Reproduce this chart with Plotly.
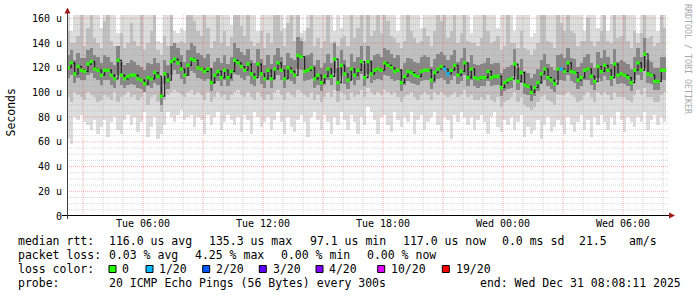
import numpy as np
import pandas as pd
import plotly.graph_objects as go

# ---------------- data ----------------
times = pd.date_range("2025-12-30 02:10", periods=180, freq="10min")

median = [
    120, 124, 115, 121, 118, 117, 123, 125, 119, 118,
    114, 118, 118, 114, 111, 126, 114, 111, 113, 114,
    114, 111, 110, 107, 112, 111, 116, 113, 97, 115,
    110, 125, 127, 124, 119, 114, 122, 127, 126, 120,
    119, 117, 119, 108, 114, 117, 112, 118, 112, 117,
    126, 124, 121, 118, 123, 115, 112, 123, 115, 111,
    118, 111, 119, 124, 118, 111, 120, 117, 114, 130,
    129, 117, 118, 120, 111, 114, 108, 113, 119, 113,
    127, 108, 122, 115, 110, 119, 114, 118, 125, 112,
    125, 115, 118, 119, 118, 124, 122, 120, 117, 118,
    108, 113, 117, 116, 114, 113, 117, 118, 118, 110,
    116, 119, 121, 119, 115, 118, 122, 114, 117, 124,
    112, 119, 112, 111, 112, 112, 117, 112, 113, 113,
    104, 108, 110, 111, 123, 109, 116, 106, 105, 100,
    104, 108, 115, 119, 112, 110, 107, 119, 119, 117,
    124, 117, 116, 110, 112, 118, 119, 113, 109, 121,
    117, 122, 118, 112, 123, 114, 115, 114, 112, 108,
    118, 124, 118, 131, 115, 114, 109, 109, 118, 118,
]

loss = [0] * 180
loss[113] = 1
loss[114] = 1
loss[148] = 1

ping_min = [
    62, 58, 80, 78, 82, 76, 74, 70, 78, 66,
    72, 78, 64, 76, 80, 70, 66, 78, 82, 74,
    80, 68, 76, 84, 64, 72, 80, 62, 66, 74,
    84, 80, 76, 82, 86, 78, 80, 82, 72, 80,
    78, 66, 82, 74, 80, 84, 70, 76, 82, 78,
    74, 80, 68, 82, 78, 66, 84, 80, 72, 76,
    80, 70, 78, 84, 76, 66, 80, 72, 68, 78,
    82, 76, 64, 80, 84, 78, 70, 82, 76, 66,
    80, 74, 84, 78, 70, 82, 76, 66, 80, 74,
    88, 84, 78, 66, 80, 82, 74, 68, 84, 78,
    72, 80, 76, 84, 66, 78, 82, 70, 76, 80,
    84, 74, 68, 80, 78, 62, 82, 76, 84, 80,
    74, 80, 70, 78, 82, 76, 66, 80, 84, 72,
    68, 78, 74, 80, 70, 76, 82, 64, 72, 66,
    70, 78, 62, 74, 80, 68, 72, 78, 74, 66,
    80, 74, 68, 76, 82, 70, 78, 64, 80, 74,
    82, 76, 70, 80, 74, 84, 78, 68, 80, 76,
    72, 80, 76, 84, 70, 78, 82, 74, 80, 76,
]

ping_lo = [
    96, 92, 100, 98, 96, 94, 100, 98, 96, 92,
    94, 98, 96, 94, 100, 92, 96, 98, 100, 96,
    98, 94, 96, 100, 90, 96, 98, 92, 84, 94,
    98, 100, 102, 100, 98, 96, 100, 102, 98, 100,
    98, 94, 100, 92, 96, 100, 96, 98, 94, 98,
    100, 102, 98, 96, 100, 96, 94, 100, 96, 94,
    98, 94, 100, 102, 98, 94, 100, 98, 96, 102,
    100, 98, 96, 100, 94, 98, 92, 96, 100, 96,
    102, 92, 100, 98, 94, 100, 96, 98, 102, 96,
    104, 100, 98, 100, 98, 102, 100, 98, 100, 96,
    92, 96, 98, 100, 96, 94, 98, 100, 98, 94,
    100, 98, 100, 98, 96, 98, 100, 96, 98, 102,
    96, 98, 94, 94, 96, 94, 98, 94, 92, 96,
    88, 92, 94, 96, 100, 92, 96, 90, 88, 86,
    88, 92, 96, 98, 94, 92, 90, 98, 98, 98,
    100, 98, 96, 92, 94, 98, 100, 96, 92, 100,
    98, 100, 98, 94, 100, 96, 96, 96, 94, 92,
    98, 102, 98, 104, 96, 96, 92, 92, 98, 100,
]

ping_lo_core = [
    112, 114, 108, 112, 110, 110, 114, 116, 112, 110,
    106, 110, 110, 106, 104, 114, 106, 104, 106, 107,
    106, 104, 103, 100, 105, 104, 108, 106, 90, 107,
    103, 114, 118, 115, 111, 107, 113, 117, 116, 112,
    111, 109, 111, 101, 107, 109, 105, 110, 105, 109,
    115, 114, 112, 110, 113, 107, 105, 113, 107, 104,
    110, 104, 111, 114, 110, 104, 111, 109, 107, 119,
    118, 109, 110, 111, 104, 106, 101, 106, 110, 106,
    116, 101, 113, 107, 103, 110, 106, 110, 115, 105,
    115, 108, 110, 111, 110, 114, 113, 111, 109, 110,
    101, 106, 109, 108, 107, 106, 109, 110, 110, 103,
    108, 111, 112, 110, 107, 110, 113, 107, 109, 114,
    105, 110, 105, 104, 105, 105, 109, 105, 106, 106,
    97, 101, 103, 104, 113, 102, 108, 99, 98, 93,
    97, 101, 107, 110, 105, 103, 100, 110, 110, 109,
    114, 109, 108, 103, 105, 110, 110, 106, 102, 112,
    109, 113, 110, 105, 113, 107, 108, 107, 105, 101,
    110, 114, 110, 120, 108, 107, 102, 102, 110, 110,
]

ping_hi_core = [
    130, 134, 126, 132, 128, 128, 134, 136, 130, 129,
    124, 130, 129, 125, 122, 138, 125, 122, 124, 126,
    125, 122, 121, 118, 124, 123, 128, 124, 112, 126,
    122, 138, 140, 136, 130, 125, 134, 140, 138, 132,
    130, 128, 131, 120, 125, 128, 124, 130, 123, 129,
    140, 136, 133, 130, 135, 126, 124, 135, 127, 122,
    130, 123, 130, 136, 129, 122, 132, 128, 126, 145,
    142, 128, 130, 132, 122, 126, 120, 124, 131, 124,
    140, 120, 134, 126, 121, 131, 125, 129, 138, 123,
    138, 126, 130, 131, 129, 136, 134, 131, 128, 130,
    119, 124, 128, 127, 125, 124, 129, 130, 129, 121,
    127, 131, 133, 130, 126, 130, 134, 125, 128, 136,
    124, 130, 123, 122, 123, 124, 128, 123, 124, 124,
    116, 119, 121, 122, 135, 120, 127, 117, 116, 112,
    115, 119, 126, 131, 123, 121, 118, 130, 131, 128,
    136, 128, 127, 121, 124, 129, 131, 124, 120, 133,
    128, 134, 129, 123, 135, 125, 126, 125, 123, 119,
    129, 136, 129, 144, 126, 125, 120, 120, 129, 129,
]

ping_hi = [
    150, 140, 140, 146, 170, 138, 152, 170, 144, 140,
    136, 158, 170, 142, 138, 138, 148, 136, 140, 156,
    142, 138, 170, 134, 140, 150, 170, 134, 130, 146,
    138, 170, 140, 140, 142, 140, 170, 170, 158, 150,
    146, 170, 152, 136, 142, 170, 140, 150, 138, 145,
    170, 170, 154, 146, 170, 142, 138, 140, 150, 136,
    148, 140, 170, 170, 150, 138, 156, 170, 142, 170,
    144, 142, 152, 170, 138, 144, 136, 142, 170, 140,
    142, 138, 144, 146, 138, 170, 144, 152, 170, 140,
    170, 146, 150, 170, 148, 170, 158, 146, 144, 140,
    136, 142, 170, 150, 144, 140, 142, 152, 146, 138,
    150, 170, 158, 170, 144, 150, 170, 140, 148, 170,
    142, 140, 140, 138, 144, 170, 150, 140, 142, 146,
    134, 138, 170, 140, 140, 136, 150, 136, 134, 130,
    134, 140, 170, 170, 142, 140, 136, 170, 156, 150,
    170, 150, 148, 138, 142, 142, 160, 142, 138, 142,
    150, 170, 142, 140, 170, 144, 146, 170, 142, 136,
    150, 140, 148, 170, 144, 146, 138, 140, 170, 152,
]

ping_max = [
    170, 150, 170, 170, 170, 170, 170, 170, 170, 170,
    152, 170, 170, 170, 170, 148, 170, 170, 170, 170,
    170, 170, 170, 170, 170, 170, 170, 142, 140, 170,
    170, 170, 150, 148, 152, 150, 170, 170, 170, 170,
    170, 170, 170, 170, 170, 170, 170, 170, 170, 155,
    170, 170, 170, 170, 170, 170, 170, 150, 170, 170,
    170, 170, 170, 170, 170, 152, 170, 170, 170, 170,
    148, 150, 170, 170, 170, 170, 170, 170, 170, 170,
    150, 170, 152, 170, 170, 170, 170, 170, 170, 170,
    170, 170, 170, 170, 170, 170, 170, 170, 170, 150,
    170, 170, 170, 170, 170, 170, 152, 170, 170, 170,
    170, 170, 170, 170, 170, 170, 170, 170, 170, 170,
    170, 148, 170, 170, 170, 170, 170, 170, 170, 152,
    170, 170, 170, 170, 150, 170, 170, 170, 170, 145,
    148, 170, 170, 170, 170, 170, 170, 170, 170, 170,
    170, 170, 170, 170, 170, 150, 170, 170, 170, 152,
    170, 170, 150, 170, 170, 170, 170, 170, 170, 170,
    170, 148, 170, 170, 170, 170, 170, 150, 170, 170,
]

loss_levels = ["0", "1/20", "2/20", "3/20", "4/20", "10/20", "19/20"]
loss_colors = ["#26ff00", "#00b8ff", "#0059ff", "#5e00ff", "#7e00ff", "#dd00ff", "#ff0000"]

y_ticks = [0, 20, 40, 60, 80, 100, 120, 140, 160]
y_ticktext = ["0", "20 u", "40 u", "60 u", "80 u", "100 u", "120 u", "140 u", "160 u"]
x_ticks = ["2025-12-30 06:00", "2025-12-30 12:00", "2025-12-30 18:00",
           "2025-12-31 00:00", "2025-12-31 06:00"]
x_ticktext = ["Tue 06:00", "Tue 12:00", "Tue 18:00", "Wed 00:00", "Wed 06:00"]

# ---------------- figure ----------------
W, H = 697, 297
L, R, T, B = 67, 28, 15, 81
PW, PH = W - L - R, H - T - B


def px(x):
    return (x - L) / PW


def py(y):
    return (H - B - y) / PH


mono = "DejaVu Sans Mono"
fig = go.Figure()

a_min = np.array(ping_min, float)
a_lo = np.array(ping_lo, float)
a_lc = np.array(ping_lo_core, float)
a_hc = np.array(ping_hi_core, float)
a_hi = np.array(ping_hi, float)
a_max = np.array(ping_max, float)

bands = [
    (a_min, a_max, "#dddddd"),
    (a_lo, a_hi, "#c0c0c0"),
    (a_lc, a_hc, "#878787"),
]
for lo, hi, col in bands:
    fig.add_trace(go.Bar(
        x=times, y=hi - lo, base=lo, width=600000, offset=0,
        marker=dict(color=col, line=dict(width=0)),
        hoverinfo="skip", showlegend=False))

mid_times = times + pd.Timedelta(minutes=5)
fig.add_trace(go.Scatter(
    x=mid_times, y=median, mode="lines", line=dict(color="#1e1e1e", width=1.2, shape="hv"),
    hoverinfo="skip", showlegend=False))
fig.add_trace(go.Scatter(
    x=mid_times, y=median, mode="markers",
    marker=dict(symbol="square", size=3.4, color=[loss_colors[v] for v in loss],
                line=dict(width=0)),
    showlegend=False))

MAJ = "rgba(235,70,70,0.42)"
MIN = "rgba(150,150,150,0.38)"
shapes = []
# grid above the smoke
for v in range(5, 161, 5):
    major = v % 20 == 0
    shapes.append(dict(type="line", xref="paper", yref="y", x0=0, x1=1, y0=v, y1=v,
                       line=dict(color=MAJ if major else MIN, width=1, dash="1px,1px"),
                       layer="above"))
for h in pd.date_range("2025-12-30 03:00", "2025-12-31 08:00", freq="1h"):
    major = h.hour % 3 == 0
    shapes.append(dict(type="line", xref="x", yref="paper", x0=h, x1=h, y0=0, y1=1,
                       line=dict(color=MAJ if major else MIN, width=1, dash="1px,1px"),
                       layer="above"))
# axes and arrows
shapes.append(dict(type="line", xref="paper", yref="paper", x0=px(62), x1=px(670),
                   y0=py(215.5), y1=py(215.5), line=dict(color="#000000", width=1)))
shapes.append(dict(type="line", xref="paper", yref="paper", x0=px(67.5), x1=px(67.5),
                   y0=py(12), y1=py(219), line=dict(color="#404040", width=1)))
shapes.append(dict(type="path", xref="paper", yref="paper",
                   path=f"M {px(64.5)},{py(13.5)} L {px(70.5)},{py(13.5)} L {px(67.5)},{py(7.5)} Z",
                   fillcolor="#a01818", line=dict(width=0)))
shapes.append(dict(type="path", xref="paper", yref="paper",
                   path=f"M {px(669)},{py(212.5)} L {px(669)},{py(218.5)} L {px(675)},{py(215.5)} Z",
                   fillcolor="#a01818", line=dict(width=0)))
# loss colour swatches
sw_x = [109, 146, 202.7, 259.3, 316, 377.7, 442.3]
for xx, col in zip(sw_x, loss_colors):
    shapes.append(dict(type="rect", xref="paper", yref="paper", x0=px(xx), x1=px(xx + 7),
                       y0=py(272.5), y1=py(265.5), fillcolor=col,
                       line=dict(color="#000000", width=1)))

ann = []


def text(x, y, s, size=11.5, color="#000000", anchor="left", angle=0, yanchor="middle"):
    ann.append(dict(xref="paper", yref="paper", x=px(x), y=py(y), text=s, showarrow=False,
                    xanchor=anchor, yanchor=yanchor, textangle=angle,
                    font=dict(family=mono, size=size, color=color)))


text(16, 241, "median rtt:")
text(107, 241, "116.0 us avg")
text(207.3, 241, "135.3 us max")
text(307.6, 241, "97.1 us min")
text(400.5, 241, "117.0 us now")
text(499.5, 241, "0.0 ms sd")
text(576.5, 241, "21.5")
text(627.3, 241, "am/s")
text(16, 255, "packet loss:")
text(107, 255, "0.03 % avg")
text(192.7, 255, "4.25 % max")
text(279.3, 255, "0.00 % min")
text(365.3, 255, "0.00 % now")
text(16, 269, "loss color:")
for xx, lab in zip(sw_x, loss_levels):
    text(xx + 11.3, 269, lab)
text(16, 283, "probe:")
text(107, 283, "20 ICMP Echo Pings (56 Bytes) every 300s")
text(477.7, 283, "end: Wed Dec 31 08:08:11 2025")
# y title and watermark
ann.append(dict(xref="paper", yref="paper", x=px(10.5), y=py(113), text="Seconds", showarrow=False,
                xanchor="center", yanchor="middle", textangle=-90,
                font=dict(family=mono, size=11.5, color="#000000")))
ann.append(dict(xref="paper", yref="paper", x=px(688), y=py(59), text="RRDTOOL / TOBI OETIKER",
                showarrow=False, xanchor="center", yanchor="middle", textangle=90,
                font=dict(family=mono, size=8.3, color="#a8a8a8")))

fig.update_layout(
    width=W, height=H, margin=dict(l=L, r=R, t=T, b=B, pad=0),
    paper_bgcolor="#ffffff", plot_bgcolor="#ffffff",
    barmode="overlay", bargap=0, showlegend=False,
    shapes=shapes, annotations=ann,
    xaxis=dict(type="date", range=["2025-12-30 02:12", "2025-12-31 08:18"],
               tickvals=x_ticks, ticktext=x_ticktext, ticks="", showgrid=False,
               zeroline=False, showline=False, fixedrange=True,
               tickfont=dict(family=mono, size=10, color="#000000")),
    yaxis=dict(range=[0, 162.7], tickvals=y_ticks, ticktext=y_ticktext, ticks="",
               showgrid=False, zeroline=False, showline=False, fixedrange=True,
               ticklabelstandoff=4,
               tickfont=dict(family=mono, size=10, color="#000000")),
)

fig.write_html("out.html")
